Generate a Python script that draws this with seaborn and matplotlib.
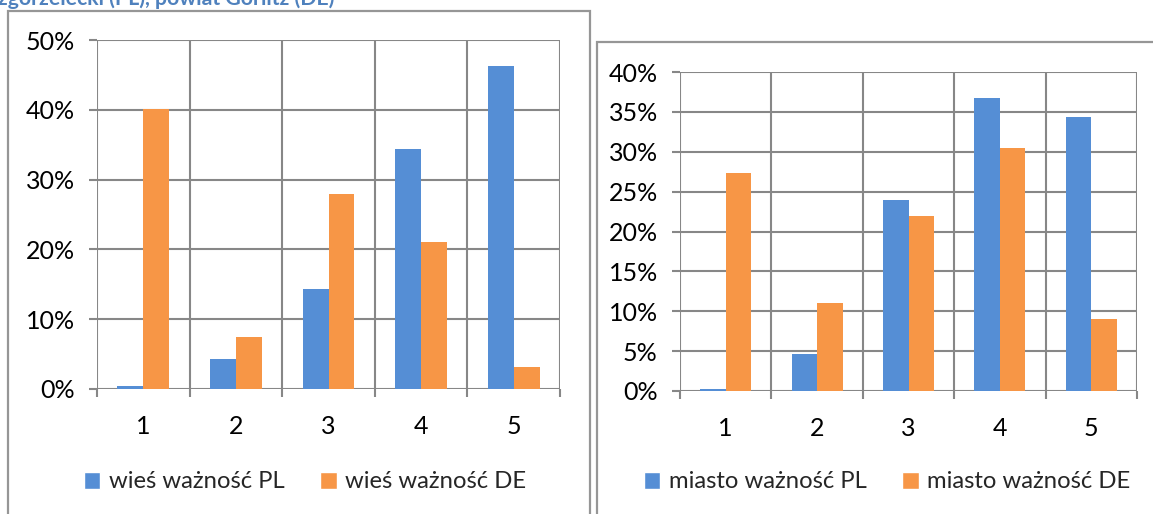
import matplotlib
matplotlib.use("Agg")
import matplotlib.pyplot as plt
import seaborn as sns
import pandas as pd
from matplotlib.patches import Rectangle
from matplotlib.ticker import PercentFormatter

categories = ["1", "2", "3", "4", "5"]
wies_pl = [0.5, 4.3, 14.3, 34.4, 46.3]
wies_de = [40.1, 7.5, 28.0, 21.1, 3.1]
miasto_pl = [0.3, 4.7, 23.9, 36.8, 34.3]
miasto_de = [27.3, 11.0, 22.0, 30.5, 9.0]
left_series = ["wieś ważność PL", "wieś ważność DE"]
right_series = ["miasto ważność PL", "miasto ważność DE"]
title_text = "zgorzelecki (PL), powiat Görlitz (DE)"

BLUE = "#558ED5"
ORANGE = "#F79646"
GRID = "#878787"
FRAME = "#969696"
FONT = "Lato"

sns.set_theme(style="white")
plt.rcParams["font.family"] = [FONT, "DejaVu Sans"]

W, H = 1153, 514
fig = plt.figure(figsize=(W / 100, H / 100), dpi=100)

def fx(px):
    return px / W

def fy(py):
    return 1 - py / H

# frames
fig.patches.append(Rectangle((fx(8), fy(530)), fx(590 - 8), (530 - 11) / H,
                             transform=fig.transFigure, fill=False,
                             edgecolor=FRAME, linewidth=1.6))
fig.patches.append(Rectangle((fx(597), fy(530)), fx(1170 - 597), (530 - 42) / H,
                             transform=fig.transFigure, fill=False,
                             edgecolor=FRAME, linewidth=1.6))

fig.text(fx(-2), fy(5), title_text, color="#4F81BD", fontsize=15.3,
         fontweight="bold", ha="left", va="baseline")


def make_chart(rect, pl, de, names, ymax, ystep, legend_center):
    ax = fig.add_axes(rect)
    df = pd.DataFrame({
        "cat": categories * 2,
        "val": list(pl) + list(de),
        "ser": [names[0]] * len(categories) + [names[1]] * len(categories),
    })
    sns.barplot(data=df, x="cat", y="val", hue="ser", ax=ax,
                palette=[BLUE, ORANGE], width=0.56, gap=0, saturation=1,
                edgecolor="none", legend=False)
    ax.set_xlim(-0.5, len(categories) - 0.5)
    ax.set_ylim(0, ymax)
    yt = [i * ystep for i in range(int(round(ymax / ystep)) + 1)]
    ax.set_yticks(yt)
    ax.yaxis.set_major_formatter(PercentFormatter(decimals=0))
    ax.set_xticks(range(len(categories)))
    ax.set_xticklabels(categories)
    ax.set_xticks([i - 0.5 for i in range(len(categories) + 1)], minor=True)
    ax.set_xlabel("")
    ax.set_ylabel("")
    for s in ax.spines.values():
        s.set_visible(False)
    ax.set_axisbelow(True)
    ax.grid(axis="y", which="major", color=GRID, linewidth=1.5)
    ax.grid(axis="x", which="minor", color=GRID, linewidth=1.5)
    ax.grid(axis="x", which="major", visible=False)
    ax.tick_params(axis="x", which="major", length=0, pad=19, labelsize=18,
                   labelcolor="black")
    ax.tick_params(axis="x", which="minor", length=6, width=1.5, color=GRID,
                   direction="out", bottom=True)
    ax.tick_params(axis="y", which="major", length=6, width=1.5, color=GRID,
                   direction="out", left=True, pad=10, labelsize=18,
                   labelcolor="black")
    handles = [Rectangle((0, 0), 1, 1, facecolor=BLUE),
               Rectangle((0, 0), 1, 1, facecolor=ORANGE)]
    fig.legend(handles, names, loc="center",
               bbox_to_anchor=(fx(legend_center[0]), fy(legend_center[1])),
               ncol=2, frameon=False, fontsize=17.2, handlelength=0.7,
               handleheight=0.7, handletextpad=0.35, columnspacing=1.5,
               borderaxespad=0, borderpad=0)
    return ax


make_chart([fx(97), fy(389), fx(560 - 97), (389 - 40) / H],
           wies_pl, wies_de, left_series, 50, 10, (305, 482))
make_chart([fx(680), fy(391), fx(1137 - 680), (391 - 72) / H],
           miasto_pl, miasto_de, right_series, 40, 5, (887, 482))

fig.savefig("out.png", dpi=100)
